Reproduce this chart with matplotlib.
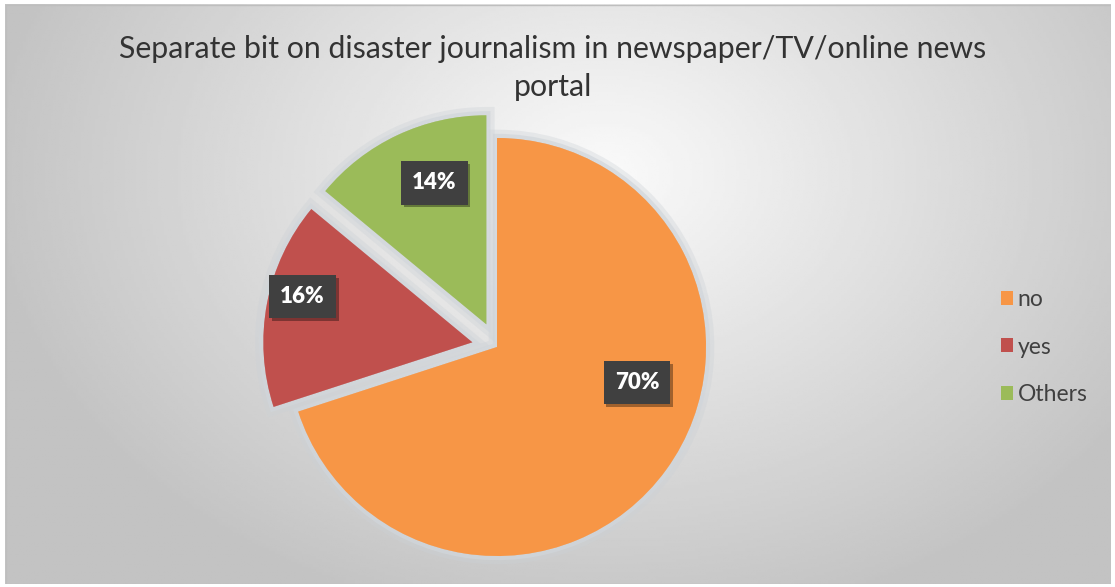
import numpy as np
import matplotlib.pyplot as plt
from matplotlib import patheffects as pe
from matplotlib.patches import Rectangle

# survey answers
labels = ['no', 'yes', 'Others']
shares = [70, 16, 14]
colors = ['#F79646', '#C0504D', '#9BBB59']
explode = [0, 0.12, 0.12]
title = 'Separate bit on disaster journalism in newspaper/TV/online news\nportal'

# where each percentage box sits (in pie radius units)
label_pos = [(0.67, -0.17), (-0.93, 0.24), (-0.30, 0.785)]

W, H = 1115, 587
fig = plt.figure(figsize=(W / 100, H / 100), dpi=100)
fig.patch.set_facecolor('white')

# chart area with a radial grey fill
bg = fig.add_axes([5 / W, 3 / H, 1106 / W, 580 / H])
gx, gy = np.meshgrid(np.linspace(0, 1106, 400), np.linspace(0, 580, 220))
d = np.sqrt(((gx - 600) / 700) ** 2 + ((gy - 170) / 520) ** 2)
shade = np.clip(250 - 62 * d, 195, 250) / 255
bg.imshow(shade, cmap='gray', vmin=0, vmax=1, extent=(0, 1106, 580, 0), aspect='auto')
bg.set_xlim(0, 1106)
bg.set_ylim(580, 0)
bg.axis('off')
bg.add_patch(Rectangle((0.5, 0.5), 1105, 579, fill=False, ec='#BEBEBE', lw=1))

fig.text(553 / W, 1 - 68 / H, title, ha='center', va='center', fontsize=21.8,
         family='Lato', color='#333333', linespacing=1.45)

# pie axes: centre (497, 347) px, radius 209 px
r, cx, cy, lim = 209, 497, 347, 1.3
aw, ah = 2 * lim * r / W, 2 * lim * r / H
ax = fig.add_axes([cx / W - aw / 2, (H - cy) / H - ah / 2, aw, ah])
wedges, _ = ax.pie(shares, colors=colors, explode=explode, startangle=90,
                   counterclock=False, radius=1)
halo = [pe.withStroke(linewidth=12, foreground=(0.80, 0.82, 0.84), alpha=0.35),
        pe.withStroke(linewidth=6, foreground=(0.82, 0.84, 0.86), alpha=0.7)]
for w in wedges:
    w.set_path_effects(halo)
ax.set_xlim(-lim, lim)
ax.set_ylim(-lim, lim)
ax.set_aspect('equal')
ax.axis('off')

for v, (x, y) in zip(shares, label_pos):
    t = ax.text(x, y, f'{v}%', ha='center', va='center', fontsize=16, fontweight='heavy',
                family='Lato', color='white',
                bbox=dict(boxstyle='square,pad=0.5', fc='#404040', ec='none'))
    t.get_bbox_patch().set_path_effects(
        [pe.SimplePatchShadow(offset=(2, -2), shadow_rgbFace='black', alpha=0.35), pe.Normal()])

leg = fig.legend(wedges, labels, loc='center left', bbox_to_anchor=(980 / W, 1 - 347 / H),
                 frameon=False, handlelength=0.55, handleheight=0.55,
                 handletextpad=0.2, labelspacing=1.15, prop={'family': 'Lato', 'size': 16.5})
for t in leg.get_texts():
    t.set_color('#404040')
for h in leg.legend_handles:
    h.set_path_effects([])

fig.savefig('out.png', dpi=100)
